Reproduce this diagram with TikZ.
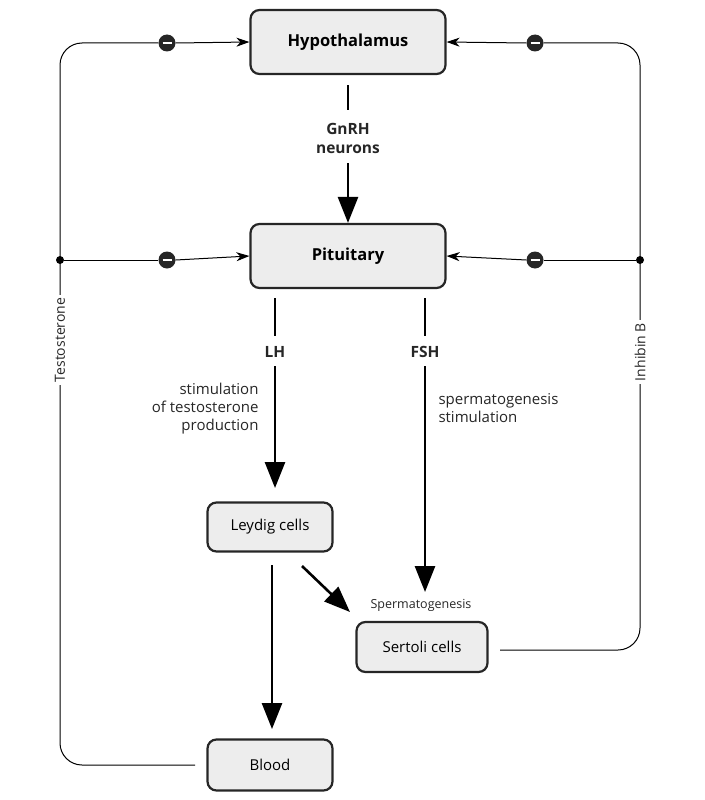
\documentclass[tikz,border=0pt]{standalone}
\usepackage{fontspec}
\setmainfont{Open Sans}
\usetikzlibrary{arrows.meta}
\begin{document}
\begin{tikzpicture}[x=1pt,y=-1pt,
 box/.style={draw=black!85,line width=2.2pt,rounded corners=9pt,fill=black!7,align=center,inner sep=0pt,font=\fontsize{15}{18}\selectfont},
 big/.style={line width=2.6pt,-{Triangle[width=20pt,length=26pt]}},
 thin/.style={line width=1pt,-{Stealth[width=9pt,length=13pt,inset=4pt]}},
 minus/.style={circle,fill=black!85,minimum size=17pt,inner sep=0pt,path picture={\draw[white,line width=1.6pt] ([xshift=-4.5pt]path picture bounding box.center)--([xshift=4.5pt]path picture bounding box.center);}},
 dot/.style={circle,fill=black,minimum size=8pt,inner sep=0pt},
 lbl/.style={font=\fontsize{15}{18}\selectfont,text=black!85}]
\useasboundingbox (0,0) rectangle (704,800);
\node[box,minimum width=195pt,minimum height=64pt,font=\bfseries\fontsize{16.5}{20}\selectfont] (hyp) at (348,42) {Hypothalamus};
\node[box,minimum width=195pt,minimum height=64pt,font=\bfseries\fontsize{16.5}{20}\selectfont] (pit) at (348,256) {Pituitary};
\node[box,minimum width=125pt,minimum height=49pt] (ley) at (270,527) {Leydig cells};
\node[box,minimum width=131pt,minimum height=50pt] (ser) at (422,647) {Sertoli cells};
\node[box,minimum width=125pt,minimum height=51pt] (blo) at (270,765) {Blood};
% GnRH
\coordinate (g1) at (348,85); \coordinate (g2) at (348,110);
\coordinate (g3) at (348,163);
\draw[line width=2.6pt] (g1)--(g2);
\node[lbl,font=\bfseries\fontsize{15.5}{19}\selectfont,align=center] (gn) at (348,138) {GnRH\\neurons};
\draw[big] (g3)--(pit.north);
% LH
\coordinate (l1) at (275,298); \coordinate (l2) at (275,336); \coordinate (l3) at (275,366); \coordinate (l4) at (275,488);
\draw[line width=2.6pt] (l1)--(l2);
\node[lbl,font=\bfseries\fontsize{15.5}{19}\selectfont] (lh) at (275,352) {LH};
\draw[big] (l3)--(l4);
\node[lbl,align=right,anchor=east] (st) at (262,409) {stimulation\\of testosterone\\production};
% FSH
\coordinate (f1) at (425,298); \coordinate (f2) at (425,336); \coordinate (f3) at (425,366); \coordinate (f4) at (425,592);
\draw[line width=2.6pt] (f1)--(f2);
\node[lbl,font=\bfseries\fontsize{15.5}{19}\selectfont] (fsh) at (425,352) {FSH};
\draw[big] (f3)--(f4);
\node[lbl,align=left,anchor=west] (ss) at (435,408) {spermatogenesis\\stimulation};
% Leydig outputs
\coordinate (b1) at (272,565); \coordinate (b2) at (272,729);
\draw[big] (b1)--(b2);
\coordinate (s1) at (302,566); \coordinate (s2) at (350,612);
\draw[big] (s1)--(s2);
\node[lbl,font=\fontsize{12.5}{15}\selectfont] (sp) at (421,605) {Spermatogenesis};
% left loop
\node[dot] (dl) at (60,260) {};
\node[minus] (m1) at (167,43) {};
\node[minus] (m2) at (167,260) {};
\coordinate (lb) at (195,765);
\draw[line width=1pt,rounded corners=22pt] (lb)--(60,765)--(60,43)--(m1.west);
\draw[thin] (m1.east)--(hyp.west);
\draw[line width=1pt] (dl)--(m2.west);
\draw[thin] (m2.east)--(pit.west);
\node[lbl,rotate=90,fill=white,inner sep=3pt,font=\fontsize{14}{17}\selectfont] (tes) at (60,340) {Testosterone};
% right loop
\node[dot] (dr) at (640,260) {};
\node[minus] (m3) at (535,43) {};
\node[minus] (m4) at (535,260) {};
\coordinate (rb) at (500,650);
\draw[line width=1pt,rounded corners=22pt] (rb)--(640,650)--(640,43)--(m3.east);
\draw[thin] (m3.west)--(hyp.east);
\draw[line width=1pt] (dr)--(m4.east);
\draw[thin] (m4.west)--(pit.east);
\node[lbl,rotate=90,fill=white,inner sep=3pt,font=\fontsize{14}{17}\selectfont] (inh) at (640,352) {Inhibin B};
\end{tikzpicture}
\end{document}
